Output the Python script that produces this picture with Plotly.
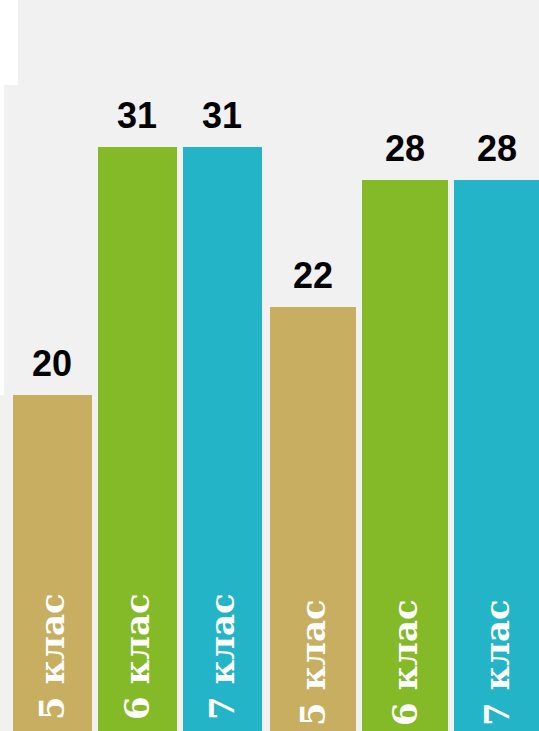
import plotly.graph_objects as go

# Data
categories = ["5 клас", "6 клас", "7 клас"]
group1_values = [20, 31, 31]
group2_values = [22, 28, 28]
bar_colors = ["#c8ae60", "#84b928", "#24b4c8"]

W, H = 539, 731
BG = "#f1f1f1"

fig = go.Figure()

xpos = [0, 1, 2]

fig.add_trace(go.Bar(x=xpos, y=group1_values, marker_color=bar_colors,
                     marker_line_width=0, width=0.94, xaxis="x", yaxis="y",
                     showlegend=False, hoverinfo="skip"))
fig.add_trace(go.Bar(x=xpos, y=group2_values, marker_color=bar_colors,
                     marker_line_width=0, width=0.945, xaxis="x2", yaxis="y2",
                     showlegend=False, hoverinfo="skip"))

annotations = []
for xr, yr, vals, yc in (("x", "y", group1_values, 657), ("x2", "y2", group2_values, 663)):
    for i, (cat, v) in enumerate(zip(categories, vals)):
        # value labels above bars
        annotations.append(dict(
            x=i, y=v, xref=xr, yref=yr, text=f"<b>{v}</b>", showarrow=False,
            xanchor="center", yanchor="bottom", yshift=9,
            font=dict(family="Liberation Sans, Arial, sans-serif", size=36, color="#000000")))
        # rotated category labels inside bars
        annotations.append(dict(
            x=i, y=1 - yc / H, xref=xr, yref="paper", text=f"<b>{cat}</b>",
            showarrow=False, textangle=-90, xanchor="center", yanchor="middle",
            font=dict(family="DejaVu Serif, serif", size=34, color="#ffffff")))

axis_common = dict(showgrid=False, zeroline=False, showticklabels=False,
                   showline=False, ticks="", fixedrange=True)

fig.update_layout(
    width=W, height=H,
    margin=dict(l=0, r=0, t=0, b=0),
    paper_bgcolor=BG, plot_bgcolor=BG,
    bargap=0,
    xaxis=dict(domain=[9.5 / W, 264.5 / W], range=[-0.5, 2.5], anchor="y", **axis_common),
    yaxis=dict(domain=[0, 1], range=[5.11, 37.50], anchor="x", **axis_common),
    xaxis2=dict(domain=[267 / W, 1], range=[-0.5, 2.4565], anchor="y2", **axis_common),
    yaxis2=dict(domain=[0, 1], range=[1.90, 36.53], anchor="x2", **axis_common),
    annotations=annotations,
    shapes=[
        dict(type="rect", xref="paper", yref="paper", x0=0, x1=18 / W, y0=1 - 85 / H, y1=1,
             fillcolor="#ffffff", line_width=0, layer="below"),
        dict(type="rect", xref="paper", yref="paper", x0=0, x1=4 / W, y0=1 - 395 / H, y1=1,
             fillcolor="#ffffff", line_width=0, layer="below"),
    ],
)

fig.write_html("out.html", config={"displayModeBar": False})

with open("out.html", "r", encoding="utf-8") as f:
    html = f.read()
html = html.replace("<head>", "<head><style>html,body{margin:0;padding:0;overflow:hidden;}</style>", 1)
with open("out.html", "w", encoding="utf-8") as f:
    f.write(html)
